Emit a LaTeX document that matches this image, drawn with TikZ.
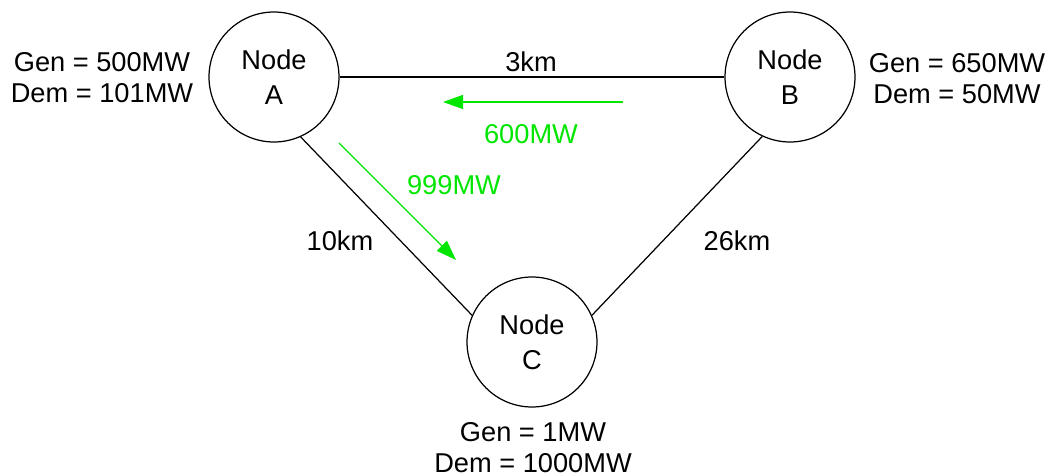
\documentclass[tikz,border=0pt]{standalone}
\usepackage{fontspec}
\setmainfont{Liberation Sans}
\usetikzlibrary{arrows.meta}
\definecolor{flowgreen}{RGB}{0,230,0}
\begin{document}
\begin{tikzpicture}[x=0.02cm,y=-0.02cm,
    font=\fontsize{15.5}{17.6}\selectfont,
    bus/.style={draw,circle,line width=0.7pt,minimum size=2.6cm,inner sep=0pt,align=center,
        font=\fontsize{15.5}{19.8}\selectfont},
    line/.style={line width=0.7pt},
    flow/.style={flowgreen,line width=0.7pt,-{Triangle[length=0.4cm,width=0.28cm]}},
    info/.style={align=center}]
    \useasboundingbox (0,0) rectangle (1048,476);
    % buses
    \node[bus] (A) at (274,77) {Node\\A};
    \node[bus] (B) at (790,77) {Node\\B};
    \node[bus] (C) at (532,342) {Node\\C};
    % lines
    \draw[line] (A.east) -- (B.west);
    \draw[line] (A.294) -- (C.156);
    \draw[line] (B.245) -- (C.24);
    \node (lab) at (531,62) {3km};
    \node (lac) at (340,241) {10km};
    \node (lbc) at (737,241) {26km};
    % gen / dem
    \node[info] (ia) at (102,78) {Gen = 500MW\\Dem = 101MW};
    \node[info] (ib) at (957,79) {Gen = 650MW\\Dem = 50MW};
    \node[info] (ic) at (533,448) {Gen = 1MW\\Dem = 1000MW};
    % flows
    \coordinate (fbs) at (623,102);
    \coordinate (fbe) at (443,102);
    \coordinate (fcs) at (339,143);
    \coordinate (fce) at (456,260);
    \draw[flow] (fbs) -- (fbe);
    \draw[flow] (fcs) -- (fce);
    \node[flowgreen] (pab) at (531,134) {600MW};
    \node[flowgreen] (pac) at (454,185) {999MW};
\end{tikzpicture}
\end{document}
